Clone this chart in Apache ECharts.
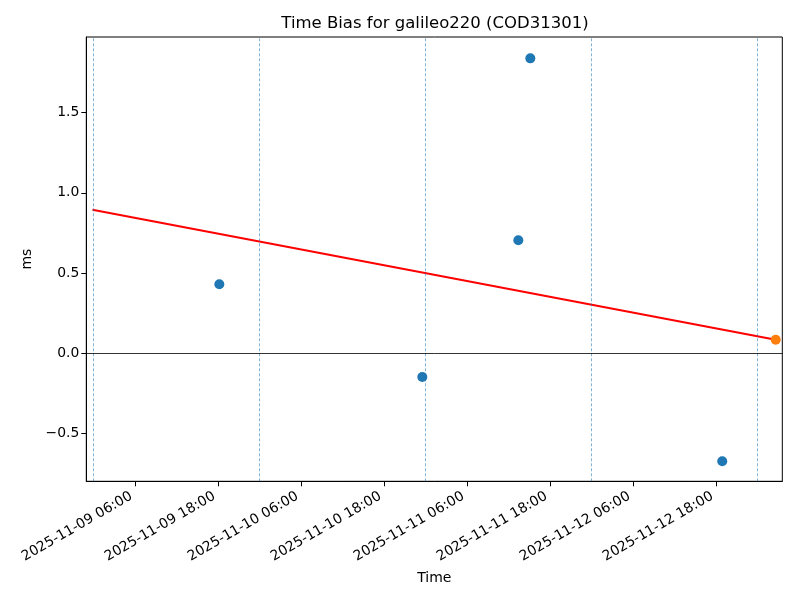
<!DOCTYPE html>
<html>
<head>
<meta charset="utf-8">
<title>Time Bias for galileo220</title>
<script src="https://cdn.jsdelivr.net/npm/echarts@6/dist/echarts.min.js"></script>
<style>
    html, body {
        margin: 0;
        padding: 0;
        background: #fff;
    }

    #biasChart {
        width: 800px;
        height: 600px;
    }
</style>
</head>
<body>
<div id="biasChart"></div>
<script>
    // measured points (UTC)
    const pointTimes = ['2025-11-09 18:13', '2025-11-10 23:34', '2025-11-11 13:27', '2025-11-11 15:11', '2025-11-12 18:56'];
    const pointValues = [0.430, -0.148, 0.704, 1.838, -0.673];

    // latest point (orange)
    const latestTimes = ['2025-11-13 02:40'];
    const latestValues = [0.085];

    // trend line end points
    const trendTimes = ['2025-11-08 23:52', '2025-11-13 02:40'];
    const trendValues = [0.895, 0.085];

    // midnight markers
    const dayLines = ['2025-11-09 00:00', '2025-11-10 00:00', '2025-11-11 00:00', '2025-11-12 00:00', '2025-11-13 00:00'];

    // tick labels
    const xTicks = ['2025-11-09 06:00', '2025-11-09 18:00', '2025-11-10 06:00', '2025-11-10 18:00',
        '2025-11-11 06:00', '2025-11-11 18:00', '2025-11-12 06:00', '2025-11-12 18:00'];
    const yTicks = [-0.5, 0.0, 0.5, 1.0, 1.5];

    const xRange = ['2025-11-08 22:59', '2025-11-13 03:37'];
    const yRange = [-0.7975, 1.971];

    function toMs(s) {
        let p = s.split(/[- :]/).map(Number);
        return Date.UTC(p[0], p[1] - 1, p[2], p[3], p[4]);
    }

    function pad(n) {
        return (n < 10 ? '0' : '') + n;
    }

    function fmtTime(v) {
        let d = new Date(v);
        return d.getUTCFullYear() + '-' + pad(d.getUTCMonth() + 1) + '-' + pad(d.getUTCDate()) + ' ' +
            pad(d.getUTCHours()) + ':' + pad(d.getUTCMinutes());
    }

    function zip(ts, vs) {
        return ts.map((t, i) => [toMs(t), vs[i]]);
    }

    const font = 'DejaVu Sans';
    const xTickMs = xTicks.map(toMs);

    let myChart = echarts.init(document.getElementById('biasChart'), null, {renderer: 'canvas'});

    let option = {
        animation: false,
        backgroundColor: '#fff',
        textStyle: {fontFamily: font},
        title: {
            text: 'Time Bias for galileo220 (COD31301)',
            left: 430,
            top: 10,
            textAlign: 'center',
            textStyle: {
                fontFamily: font,
                fontWeight: 'normal',
                fontSize: 16.5,
                color: '#000'
            }
        },
        grid: {
            left: 86.3,
            right: 17.7,
            top: 37,
            bottom: 118.7,
            show: true,
            borderColor: '#000',
            borderWidth: 1,
            containLabel: false
        },
        xAxis: {
            type: 'value',
            min: toMs(xRange[0]),
            max: toMs(xRange[1]),
            name: 'Time',
            nameLocation: 'middle',
            nameGap: 90,
            nameTextStyle: {fontFamily: font, fontSize: 14, color: '#000'},
            splitLine: {show: false},
            axisLine: {show: true, onZero: false, lineStyle: {color: '#000', width: 1}},
            axisTick: {show: true, length: 5, lineStyle: {color: '#000', width: 1}, customValues: xTickMs},
            axisLabel: {
                customValues: xTickMs,
                rotate: 30,
                margin: 12,
                padding: [0, 4, 0, 0],
                fontFamily: font,
                fontSize: 13.9,
                color: '#000',
                formatter: fmtTime
            }
        },
        yAxis: {
            type: 'value',
            min: yRange[0],
            max: yRange[1],
            name: 'ms',
            nameLocation: 'middle',
            nameGap: 44,
            nameTextStyle: {fontFamily: font, fontSize: 14, color: '#000'},
            splitLine: {show: false},
            axisLine: {show: true, onZero: false, lineStyle: {color: '#000', width: 1}},
            axisTick: {show: true, length: 5, lineStyle: {color: '#000', width: 1}, customValues: yTicks},
            axisLabel: {
                customValues: yTicks,
                margin: 7,
                fontFamily: font,
                fontSize: 13.9,
                color: '#000',
                formatter: v => (v < 0 ? '\u2212' : '') + Math.abs(v).toFixed(1)
            }
        },
        series: [
            {
                name: 'bias',
                type: 'scatter',
                symbol: 'circle',
                symbolSize: 10,
                itemStyle: {color: '#1f77b4', opacity: 1},
                data: zip(pointTimes, pointValues),
                z: 3,
                markLine: {
                    silent: true,
                    symbol: 'none',
                    label: {show: false},
                    animation: false,
                    data: dayLines.map(t => ({
                        xAxis: toMs(t),
                        lineStyle: {color: '#1f77b4', opacity: 0.7, width: 0.8, type: [3, 2]}
                    })).concat([{
                        yAxis: 0,
                        lineStyle: {color: '#000', width: 0.8, type: 'solid'}
                    }])
                }
            },
            {
                name: 'trend',
                type: 'line',
                showSymbol: false,
                symbol: 'none',
                lineStyle: {color: '#ff0000', width: 2},
                data: zip(trendTimes, trendValues),
                z: 4
            },
            {
                name: 'latest',
                type: 'scatter',
                symbol: 'circle',
                symbolSize: 10,
                itemStyle: {color: '#ff7f0e', opacity: 1},
                data: zip(latestTimes, latestValues),
                z: 5
            }
        ]
    };

    myChart.setOption(option);
</script>
</body>
</html>
